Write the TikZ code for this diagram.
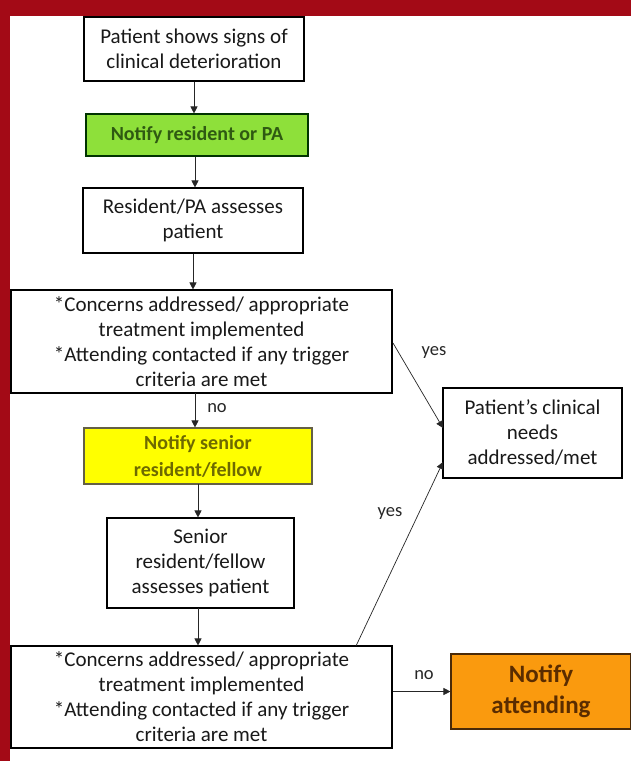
\documentclass[tikz,border=0pt]{standalone}
\usepackage{fontspec}
\setmainfont{Carlito}
\usetikzlibrary{arrows.meta}
\definecolor{frame}{HTML}{A30A16}
\definecolor{greenfill}{HTML}{8EE03A}
\definecolor{greentext}{HTML}{2F5A12}
\definecolor{yellowfill}{HTML}{FFFF00}
\definecolor{yellowtext}{HTML}{6E6A00}
\definecolor{orangefill}{HTML}{FA9A0E}
\definecolor{orangetext}{HTML}{5A2C00}
\definecolor{orangeedge}{HTML}{4A2A08}
\begin{document}
\begin{tikzpicture}[x=1pt,y=-1pt,
  box/.style={draw=black,line width=1.1pt,fill=white,align=center,inner sep=0pt,
    font=\fontsize{21}{25}\selectfont,text=black!90},
  conn/.style={draw=black!85,line width=0.7pt,-{Triangle[length=7pt,width=7pt]}},
  lbl/.style={font=\fontsize{18.5}{20}\selectfont,text=black!85}
]
\useasboundingbox (0,0) rectangle (631,761);
\fill[white] (0,0) rectangle (631,761);
\fill[frame] (0,0) rectangle (631,16);
\fill[frame] (0,0) rectangle (10,761);

\node[box,minimum width=220pt,minimum height=64pt] (b1) at (194,49)
  {Patient shows signs of\\clinical deterioration};
\node[box,fill=greenfill,draw=black!80!green,minimum width=222pt,minimum height=42pt,
  font=\fontsize{20}{24}\selectfont\bfseries,text=greentext] (b2) at (197,135)
  {Notify resident or PA};
\node[box,minimum width=220pt,minimum height=65pt] (b3) at (193,220.5)
  {Resident/PA assesses\\patient};
\node[box,minimum width=381pt,minimum height=103pt] (b4) at (201.5,341.5)
  {*Concerns addressed/ appropriate\\treatment implemented\\*Attending contacted if any trigger\\criteria are met};
\node[box,fill=yellowfill,draw=black!70!yellow,minimum width=228pt,minimum height=56pt,
  font=\fontsize{20}{27}\selectfont\bfseries,text=yellowtext] (b5) at (198,456)
  {Notify senior\\resident/fellow};
\node[box,minimum width=187pt,minimum height=90pt] (b6) at (200.5,563)
  {Senior\\resident/fellow\\assesses patient};
\node[box,minimum width=381pt,minimum height=102pt] (b7) at (201.5,697)
  {*Concerns addressed/ appropriate\\treatment implemented\\*Attending contacted if any trigger\\criteria are met};
\node[box,minimum width=179pt,minimum height=90pt] (b8) at (532.5,433)
  {Patient’s clinical\\needs\\addressed/met};
\node[box,fill=orangefill,draw=orangeedge,minimum width=180pt,minimum height=75pt,
  font=\fontsize{25}{31}\selectfont\bfseries,text=orangetext] (b9) at (541,691.5)
  {Notify\\attending};

\draw[conn] (b1.south) -- (b1.south |- b2.north);
\draw[conn] (b2.south -| b3.north) ++(2,0) coordinate (c23) -- (c23 |- b3.north);
\draw[conn] (b3.south) -- (b3.south |- b4.north);
\coordinate (c45) at (195,393);
\draw[conn] (c45) -- (c45 |- b5.north);
\coordinate (c56) at (198,484);
\draw[conn] (c56) -- (c56 |- b6.north);
\coordinate (c67) at (198,608);
\draw[conn] (c67) -- (c67 |- b7.north);
\coordinate (y1s) at (393,343);
\coordinate (y1e) at (443,428);
\draw[conn] (y1s) -- (y1e);
\coordinate (y2s) at (356,646);
\coordinate (y2e) at (443,462);
\draw[conn] (y2s) -- (y2e);
\draw[conn] (b7.east |- b9.west) -- (b9.west);

\node[lbl] (l1) at (434,352) {yes};
\node[lbl] (l2) at (390,513) {yes};
\node[lbl] (l3) at (217,408) {no};
\node[lbl] (l4) at (424,675) {no};
\end{tikzpicture}
\end{document}
